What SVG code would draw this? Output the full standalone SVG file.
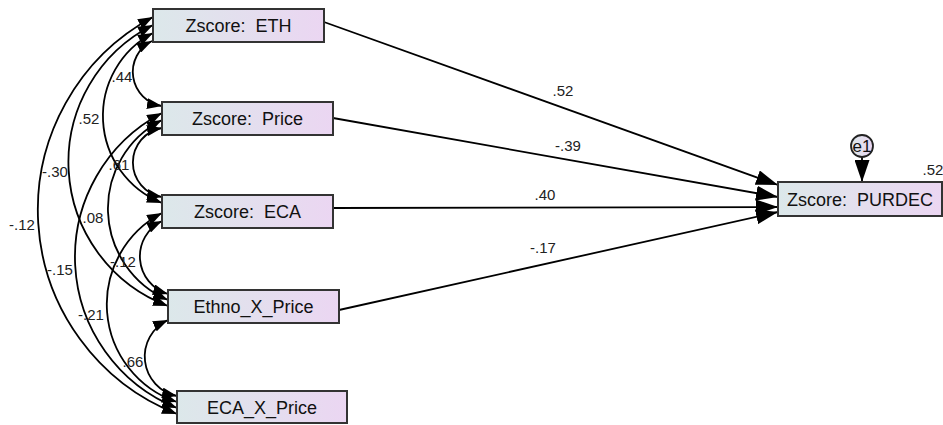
<svg xmlns="http://www.w3.org/2000/svg" width="943" height="425" viewBox="0 0 943 425">
<defs>
<linearGradient id="bg" x1="0" y1="0" x2="1" y2="0">
<stop offset="0" stop-color="#dce8ea"/>
<stop offset="1" stop-color="#ebd6f2"/>
</linearGradient>
<marker id="ah" markerUnits="userSpaceOnUse" markerWidth="16" markerHeight="11" refX="15" refY="5.5" orient="auto-start-reverse" viewBox="0 0 16 11"><path d="M0,0 L15,5.5 L0,11 z" fill="#000"/></marker>
<marker id="am" markerUnits="userSpaceOnUse" markerWidth="23" markerHeight="15" refX="22" refY="7.5" orient="auto" viewBox="0 0 23 15"><path d="M0,0 L22,7.5 L0,15 z" fill="#000"/></marker>
</defs>
<style>
.box{fill:url(#bg);stroke:#333;stroke-width:2}
.lbl{font-family:"Liberation Sans",Arial,sans-serif;font-size:18px;fill:#111;text-anchor:middle;white-space:pre}
.num{font-family:"Liberation Sans",Arial,sans-serif;font-size:15px;fill:#222;text-anchor:middle}
.cov{fill:none;stroke:#000;stroke-width:1.8;marker-start:url(#ah);marker-end:url(#ah)}
.path{fill:none;stroke:#000;stroke-width:1.8;marker-end:url(#am)}
</style>
<rect width="943" height="425" fill="#fff"/>
<g id="connectors">
<path class="path" d="M324,22 L778,185"/>
<path class="path" d="M333,118 L778,197"/>
<path class="path" d="M333,208 L778,207"/>
<path class="path" d="M339,310 L778,212"/>
<path class="path" d="M862,157 L862,182"/>
<path class="cov" d="M152,41 A34.5,34.5 0 0 0 162,106"/>
<path class="cov" d="M153,33 A93.7,93.7 0 0 0 162,203"/>
<path class="cov" d="M153,25 A153.6,153.6 0 0 0 168,306"/>
<path class="cov" d="M153,17 A219.2,219.2 0 0 0 177,414"/>
<path class="cov" d="M162,128 A35,35 0 0 0 162,197"/>
<path class="cov" d="M162,120 A99.6,99.6 0 0 0 168,300"/>
<path class="cov" d="M162,113 A162.7,162.7 0 0 0 177,408"/>
<path class="cov" d="M162,221 A39.3,39.3 0 0 0 168,294"/>
<path class="cov" d="M162,213 A103.1,103.1 0 0 0 177,402"/>
<path class="cov" d="M168,320 A40.3,40.3 0 0 0 177,396"/>
<text class="num" x="563" y="96">.52</text>
<text class="num" x="568" y="151">-.39</text>
<text class="num" x="545" y="200">.40</text>
<text class="num" x="543" y="253">-.17</text>
<text class="num" x="122" y="82">.44</text>
<text class="num" x="89" y="124">.52</text>
<text class="num" x="55" y="177">-.30</text>
<text class="num" x="22" y="230">-.12</text>
<text class="num" x="119" y="170">.61</text>
<text class="num" x="93" y="223">.08</text>
<text class="num" x="60" y="275">-.15</text>
<text class="num" x="123" y="267">-.12</text>
<text class="num" x="91" y="320">-.21</text>
<text class="num" x="133" y="367">.66</text>
</g>
<g id="ETH"><rect class="box" x="153" y="9" width="171" height="33"/><text class="lbl" x="238.5" y="32" xml:space="preserve">Zscore:  ETH</text></g>
<g id="Price"><rect class="box" x="162" y="102" width="171" height="33"/><text class="lbl" x="247.5" y="125" xml:space="preserve">Zscore:  Price</text></g>
<g id="ECA"><rect class="box" x="162" y="195" width="171" height="33"/><text class="lbl" x="247.5" y="218" xml:space="preserve">Zscore:  ECA</text></g>
<g id="Ethno_X_Price"><rect class="box" x="168" y="290" width="171" height="33"/><text class="lbl" x="253.5" y="313">Ethno_X_Price</text></g>
<g id="ECA_X_Price"><rect class="box" x="177" y="391" width="170" height="32"/><text class="lbl" x="262" y="414">ECA_X_Price</text></g>
<g id="PURDEC"><rect class="box" x="778" y="182" width="164" height="34"/><text class="lbl" x="860" y="206" xml:space="preserve">Zscore:  PURDEC</text><text class="num" x="933" y="175">.52</text></g>
<g id="e1"><circle cx="862" cy="146" r="11" fill="url(#bg)" stroke="#222" stroke-width="1.8"/><text class="lbl" x="862" y="152" style="font-size:17px">e1</text></g>
</svg>
